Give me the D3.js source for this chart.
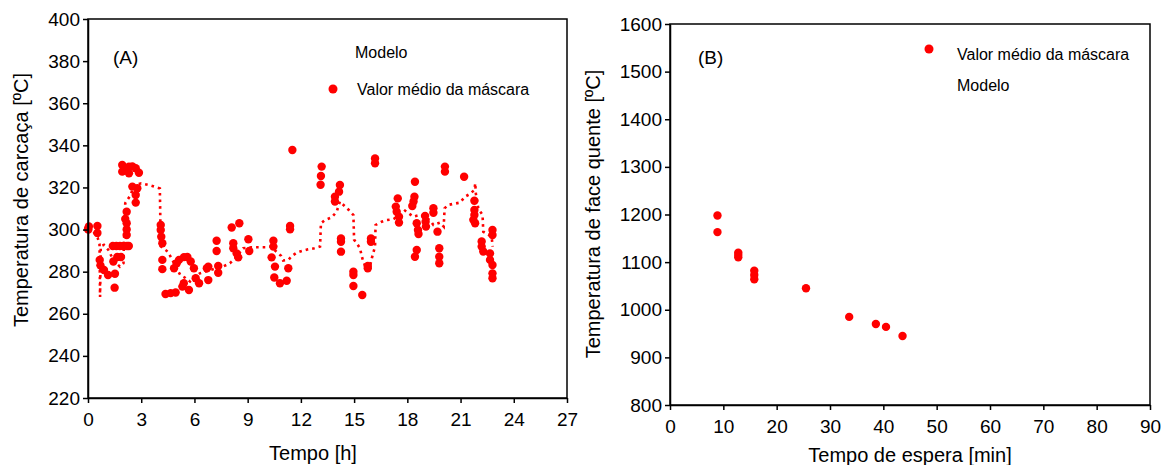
<!DOCTYPE html>
<html>
<head>
<meta charset="utf-8">
<script src="https://cdn.jsdelivr.net/npm/d3@7"></script>
<style>
  body { margin: 0; background: #fff; }
  text { font-family: "Liberation Sans", Arial, sans-serif; fill: #000; }
</style>
</head>
<body>
<svg id="chart" width="1166" height="465"></svg>
<script>
// panel A - mean of mask, time in hours and temperature
var hoursA = [0.0,0.05,0.02,0.53,0.53,0.66,0.7,0.9,1.13,1.52,1.5,1.43,1.65,1.86,
  1.4,1.6,1.8,2.0,2.2,2.3,2.18,2.18,2.18,2.18,2.1,
  1.93,1.93,2.31,2.31,2.69,2.87,2.1,2.5,2.05,2.5,2.78,2.69,2.69,
  4.1,4.1,4.13,4.19,4.19,4.19,4.37,4.66,4.94,
  4.85,5.13,5.41,5.79,5.97,6.07,6.26,5.4,5.32,5.69,6.7,5.0,5.6,
  6.78,6.78,7.34,7.34,7.25,7.25,
  8.1,8.53,8.19,8.19,8.38,8.47,9.04,9.09,
  10.45,10.45,10.35,10.54,10.5,10.82,11.2,11.29,11.39,11.39,11.52,
  13.17,13.13,13.11,14.2,14.15,13.92,13.92,16.18,16.18,
  14.26,14.26,14.26,14.96,14.96,14.96,15.46,15.95,15.95,15.77,15.77,
  17.46,17.35,17.4,17.53,17.53,18.43,18.4,18.35,18.28,18.53,18.6,18.63,18.53,18.43,
  19.0,19.03,19.05,19.47,19.47,19.7,19.8,19.8,19.8,20.12,20.12,
  21.2,21.78,21.78,21.78,21.72,21.82,
  22.19,22.19,22.28,22.66,22.66,22.8,22.8,22.8,22.8,22.8]
var tempA = [300.3,301.5,300,301.7,298.4,285.6,283,280.8,278.4,279,272.4,284.8,287,287,
  292.2,292.2,292.2,292.2,292.2,292.2,308.5,303,300,297.4,305,
  330.7,327.5,329.9,326.7,329.1,327,329,330,328.5,320.4,319.6,316.4,312.8,
  302.2,299.8,296.6,293.5,285.6,281.2,269.4,269.8,270.1,
  281.6,285.6,286.9,284.8,281.6,276.9,274.5,274.5,272.9,271.3,281.6,284,287,
  282.4,276,282.7,279.5,294.7,289.8,
  301,303,293.5,291.1,288.7,286.8,295.4,289.8,
  294.7,291.9,286.8,282.4,277.2,274.5,275.7,281.6,301.7,300.1,337.8,
  329.9,325.4,321.3,321.2,318,315.6,313.3,333.8,331.5,
  295.8,294.2,289.5,280,278.4,273.2,268.9,295.8,294.2,282.7,281.6,
  314.8,310.9,308.5,306.1,303.3,322.7,315.6,313.3,311.2,303,299.8,297.9,290.3,287.1,
  306.5,303.7,301.4,310.1,308,299,291.1,287.1,284,329.9,327.5,
  325.1,313.7,309.3,306.9,304.6,303,
  294.3,291.9,289.6,288.7,285.6,283.2,299.8,297.4,279.2,276.9]

// panel A - model (dotted line)
var modelHours = [0,0.3,0.55,0.65,0.68,0.72,0.9,1.15,1.4,1.6,1.8,2.0,2.05,2.1,2.4,2.6,3.0,3.5,4.05,4.1,
  4.5,4.7,5.2,5.5,5.75,5.95,6.3,7.0,7.6,8.0,8.3,8.75,9.2,10.0,10.3,10.88,11.0,11.3,11.5,11.76,
  12.13,12.4,12.76,13.08,13.13,13.36,13.74,14.02,14.2,14.5,14.7,14.96,15.0,15.15,15.33,15.46,15.6,15.8,16.0,16.18,
  16.21,16.55,16.83,17.2,17.6,17.87,18.34,18.7,19.0,19.28,19.47,19.84,20.05,20.1,20.3,20.6,20.97,21.25,21.53,21.78,
  21.83,21.86,22.0,22.24,22.28,22.75,22.81]
var modelTemps = [300.5,299,296,293,268,292,292.7,290.3,286,284,282.4,284,300,312.5,316.4,321,322,321,319.5,292,
  289.5,286.4,278.4,277,275.3,277,279.2,281,282.4,284,286.4,291.1,291.6,291.6,291.9,287.5,285.3,285.6,287.5,289,
  290,290.6,291.1,291.9,303,304.5,305.8,308.5,313.3,310.9,309.3,306.9,295.1,293.5,291.1,286.4,283.2,279.2,286.4,292,
  302.2,303.7,304.5,304.9,306.9,309,306.1,306.9,305.8,304.5,302.2,303.3,301.4,310.1,311.7,312.2,312.8,315.6,316.9,318.8,
  322,317.2,310,306.9,299,296.6,291.9]

// panel B - waiting time in minutes and hot face temperature
var waitB = [8.9,8.9,12.8,12.8,12.8,15.8,15.8,15.8,25.5,33.6,38.6,40.5,43.6]
var tempB = [1198,1163,1120,1110,1115,1082,1073,1064,1045,985,970,964,945]

var ticksA_x = [0,3,6,9,12,15,18,21,24,27]
var ticksA_y = [220,240,260,280,300,320,340,360,380,400]
var ticksB_x = [0,10,20,30,40,50,60,70,80,90]
var ticksB_y = [800,900,1000,1100,1200,1300,1400,1500,1600]

var red = "#ff0000"
var svg = d3.select("#chart")

// ---------- panel A ----------
var xA = d3.scaleLinear().domain([0, 27]).range([88, 567])
var yA = d3.scaleLinear().domain([220, 400]).range([398, 19])

var gA = svg.append("g")

gA.append("path")
  .datum(modelHours.map(function(h, i){ return [h, modelTemps[i]] }))
  .attr("d", d3.line().x(function(d){ return xA(d[0]) }).y(function(d){ return yA(d[1]) }))
  .attr("fill", "none")
  .attr("stroke", red)
  .attr("stroke-width", 2.6)
  .attr("stroke-dasharray", "2.6,4")

gA.selectAll("circle")
  .data(hoursA)
  .enter()
  .append("circle")
    .attr("cx", function(d){ return xA(d) })
    .attr("cy", function(d, i){ return yA(tempA[i]) })
    .attr("r", 4.2)
    .style("fill", red)

// frame
gA.append("rect")
  .attr("x", 88).attr("y", 19).attr("width", 567 - 88).attr("height", 398 - 19)
  .attr("fill", "none").attr("stroke", "#000").attr("stroke-width", 1.5)

var axA_x = gA.append("g").attr("transform", "translate(0,398)")
  .call(d3.axisBottom(xA).tickValues(ticksA_x).tickSizeInner(5).tickSizeOuter(0).tickPadding(10))
var axA_y = gA.append("g").attr("transform", "translate(88,0)")
  .call(d3.axisLeft(yA).tickValues(ticksA_y).tickSizeInner(5).tickSizeOuter(0).tickPadding(3))

gA.append("text").attr("x", 113).attr("y", 64)
  .style("font-size", "19px").text("(A)")
gA.append("text").attr("x", 355).attr("y", 58).style("font-size", "16px").text("Modelo")
gA.append("circle").attr("cx", 333).attr("cy", 89).attr("r", 4.5).style("fill", red)
gA.append("text").attr("x", 357).attr("y", 95).style("font-size", "16px").text("Valor médio da máscara")

gA.append("text").attr("x", 313).attr("y", 460).attr("text-anchor", "middle")
  .style("font-size", "20px").text("Tempo [h]")
gA.append("text").attr("transform", "translate(28,200) rotate(-90)").attr("text-anchor", "middle")
  .style("font-size", "20px").text("Temperatura de carcaça [ºC]")

// ---------- panel B ----------
var xB = d3.scaleLinear().domain([0, 90]).range([670, 1150])
var yB = d3.scaleLinear().domain([800, 1600]).range([405, 24])

var gB = svg.append("g")

gB.selectAll("circle")
  .data(waitB)
  .enter()
  .append("circle")
    .attr("cx", function(d){ return xB(d) })
    .attr("cy", function(d, i){ return yB(tempB[i]) })
    .attr("r", 4.2)
    .style("fill", red)

gB.append("rect")
  .attr("x", 670).attr("y", 24).attr("width", 1150 - 670).attr("height", 405 - 24)
  .attr("fill", "none").attr("stroke", "#000").attr("stroke-width", 1.5)

var axB_x = gB.append("g").attr("transform", "translate(0,405)")
  .call(d3.axisBottom(xB).tickValues(ticksB_x).tickSizeInner(5).tickSizeOuter(0).tickPadding(10))
var axB_y = gB.append("g").attr("transform", "translate(670,0)")
  .call(d3.axisLeft(yB).tickValues(ticksB_y).tickFormat(d3.format("d")).tickSizeInner(5).tickSizeOuter(0).tickPadding(3))

gB.append("text").attr("x", 698).attr("y", 64)
  .style("font-size", "19px").text("(B)")
gB.append("circle").attr("cx", 929).attr("cy", 49).attr("r", 4.5).style("fill", red)
gB.append("text").attr("x", 957).attr("y", 60).style("font-size", "16px").text("Valor médio da máscara")
gB.append("text").attr("x", 957).attr("y", 91).style("font-size", "16px").text("Modelo")

gB.append("text").attr("x", 910).attr("y", 462).attr("text-anchor", "middle")
  .style("font-size", "20px").text("Tempo de espera [min]")
gB.append("text").attr("transform", "translate(600,214) rotate(-90)").attr("text-anchor", "middle")
  .style("font-size", "20px").text("Temperatura de face quente [ºC]")

// axis styling
svg.selectAll(".domain").attr("stroke", "#000").attr("stroke-width", 1.5)
svg.selectAll(".tick line").attr("stroke", "#000").attr("stroke-width", 1.5)
svg.selectAll(".tick text").style("font-size", "19px").attr("fill", "#000")
  .style("font-family", "'Liberation Sans', Arial, sans-serif")
</script>
</body>
</html>
